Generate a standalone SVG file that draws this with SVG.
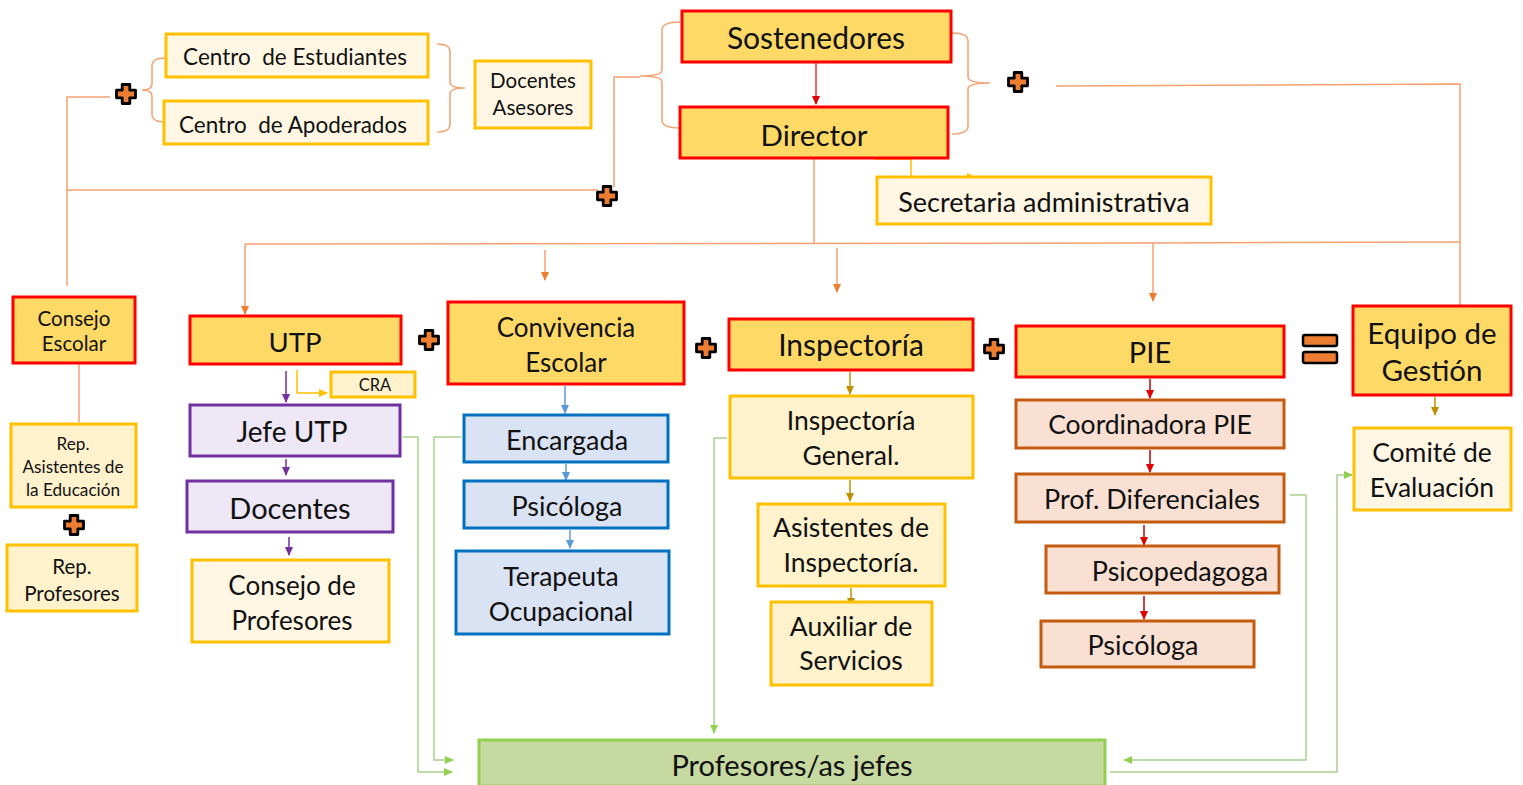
<svg xmlns="http://www.w3.org/2000/svg" width="1523" height="785" viewBox="0 0 1523 785">
<style>
text{font-family:Lato,"Liberation Sans",sans-serif;fill:#111;text-anchor:middle;dominant-baseline:central}
.pre{white-space:pre}
.main{fill:#FFD966;stroke:#FF0000;stroke-width:3}
.cream{fill:#FFF2CC;stroke:#FFC000;stroke-width:3}
.light{fill:#FFF7E4;stroke:#FFC000;stroke-width:3}
.purp{fill:#EDE7F6;stroke:#7030A0;stroke-width:3}
.blue{fill:#DAE3F3;stroke:#0070C0;stroke-width:3}
.pie{fill:#F9E0D3;stroke:#C55A11;stroke-width:3}
.green{fill:#C5D9A0;stroke:#92D050;stroke-width:3}
.o{fill:none;stroke:#F4A070;stroke-width:1.5}
.g{fill:none;stroke:#A9D18E;stroke-width:1.5}
</style>
<defs>
<marker id="aO" markerWidth="10" markerHeight="10" refX="8" refY="5" orient="auto" markerUnits="userSpaceOnUse"><path d="M0,1 L9,5 L0,9 Z" fill="#ED7D31"/></marker>
<marker id="aR" markerWidth="10" markerHeight="10" refX="8" refY="5" orient="auto" markerUnits="userSpaceOnUse"><path d="M0,1 L9,5 L0,9 Z" fill="#E00000"/></marker>
<marker id="aP" markerWidth="10" markerHeight="10" refX="8" refY="5" orient="auto" markerUnits="userSpaceOnUse"><path d="M0,1 L9,5 L0,9 Z" fill="#7030A0"/></marker>
<marker id="aY" markerWidth="10" markerHeight="10" refX="8" refY="5" orient="auto" markerUnits="userSpaceOnUse"><path d="M0,1 L9,5 L0,9 Z" fill="#FFC000"/></marker>
<marker id="aB" markerWidth="10" markerHeight="10" refX="8" refY="5" orient="auto" markerUnits="userSpaceOnUse"><path d="M0,1 L9,5 L0,9 Z" fill="#5B9BD5"/></marker>
<marker id="aG" markerWidth="10" markerHeight="10" refX="8" refY="5" orient="auto" markerUnits="userSpaceOnUse"><path d="M0,1 L9,5 L0,9 Z" fill="#BF9000"/></marker>
<marker id="aL" markerWidth="10" markerHeight="10" refX="8" refY="5" orient="auto" markerUnits="userSpaceOnUse"><path d="M0,1 L9,5 L0,9 Z" fill="#92D050"/></marker>
<path id="plus" d="M-3.8,-9.5 H3.8 V-3.8 H9.5 V3.8 H3.8 V9.5 H-3.8 V3.8 H-9.5 V-3.8 H-3.8 Z" fill="#ED7D31" stroke="#000" stroke-width="2.8" stroke-linejoin="round"/>
</defs>

<g id="connectors">
<path class="o" d="M165,58 Q152,58 152,66 V84 Q152,90 142,90 Q152,90 152,96 V114 Q152,122 165,122"/>
<path class="o" d="M437,44 Q450,44 450,52 V82 Q450,88 465,88 Q450,88 450,94 V124 Q450,132 437,132"/>
<path class="o" d="M680,22 Q662,22 662,30 V70 Q662,76 640,76 Q662,76 662,82 V120 Q662,128 680,128"/>
<path class="o" d="M952,33 Q968,33 968,41 V77 Q968,83 990,83 Q968,83 968,89 V126 Q968,134 952,134"/>
<path class="o" d="M110,97 H67 V286"/>
<path class="o" d="M67,190 H598"/>
<path class="o" d="M614,187 V77 H640"/>
<path class="o" d="M79,364 V422"/>
<path class="o" d="M1056,86 L1460,84 V305"/>
<path class="o" d="M814,159 V243"/>
<path class="o" d="M245,244 L1153,243 L1460,242"/>
<path class="o" d="M245,244 V314" marker-end="url(#aO)"/>
<path class="o" d="M545,250 V280" marker-end="url(#aO)"/>
<path class="o" d="M837,248 V292" marker-end="url(#aO)"/>
<path class="o" d="M1153,243 V301" marker-end="url(#aO)"/>
<path d="M816,63 V104" fill="none" stroke="#FF3030" stroke-width="1.5" marker-end="url(#aR)"/>
<path d="M875,159 H911 V177 H975" fill="none" stroke="#FFC000" stroke-width="1.5" marker-end="url(#aY)"/>
<path d="M286,371 V402" fill="none" stroke="#7030A0" stroke-width="1.5" marker-end="url(#aP)"/>
<path d="M297,370 V393 H327" fill="none" stroke="#FFC000" stroke-width="1.5" marker-end="url(#aY)"/>
<path d="M286,459 V475" fill="none" stroke="#7030A0" stroke-width="1.5" marker-end="url(#aP)"/>
<path d="M289,537 V555" fill="none" stroke="#7030A0" stroke-width="1.5" marker-end="url(#aP)"/>
<path d="M565,386 V413" fill="none" stroke="#5B9BD5" stroke-width="1.5" marker-end="url(#aB)"/>
<path d="M566,464 V480" fill="none" stroke="#5B9BD5" stroke-width="1.5" marker-end="url(#aB)"/>
<path d="M570,530 V548" fill="none" stroke="#5B9BD5" stroke-width="1.5" marker-end="url(#aB)"/>
<path d="M850,372 V394" fill="none" stroke="#BF9000" stroke-width="1.5" marker-end="url(#aG)"/>
<path d="M850,480 V501" fill="none" stroke="#BF9000" stroke-width="1.5" marker-end="url(#aG)"/>
<path d="M851,588 V606" fill="none" stroke="#BF9000" stroke-width="1.5" marker-end="url(#aG)"/>
<path d="M1150,379 V398" fill="none" stroke="#C00000" stroke-width="1.5" marker-end="url(#aR)"/>
<path d="M1150,450 V472" fill="none" stroke="#C00000" stroke-width="1.5" marker-end="url(#aR)"/>
<path d="M1144,525 V545" fill="none" stroke="#C00000" stroke-width="1.5" marker-end="url(#aR)"/>
<path d="M1144,596 V619" fill="none" stroke="#C00000" stroke-width="1.5" marker-end="url(#aR)"/>
<path d="M1435,397 V415" fill="none" stroke="#BF9000" stroke-width="1.5" marker-end="url(#aG)"/>
<path class="g" d="M403,437 H418 V772 H452" marker-end="url(#aL)"/>
<path class="g" d="M461,437 H434 V760 H453" marker-end="url(#aL)"/>
<path class="g" d="M727,438 H714 V733" marker-end="url(#aL)"/>
<path class="g" d="M1290,495 H1306 V760 H1124" marker-end="url(#aL)"/>
<path class="g" d="M1110,772 H1337 V475 H1352" marker-end="url(#aL)"/>
</g>

<g id="plus-signs">
<use href="#plus" x="126" y="94"/>
<use href="#plus" x="607" y="196"/>
<use href="#plus" x="1018" y="82"/>
<use href="#plus" x="74" y="525"/>
<use href="#plus" x="429" y="340"/>
<use href="#plus" x="706" y="348"/>
<use href="#plus" x="994" y="349"/>
<rect x="1303" y="335" width="34" height="11" rx="2" fill="#ED7D31" stroke="#000" stroke-width="2.5"/>
<rect x="1303" y="352" width="34" height="11" rx="2" fill="#ED7D31" stroke="#000" stroke-width="2.5"/>
</g>

<g id="centro-estudiantes"><rect class="light" x="166" y="34" width="262" height="43"/><text class="pre" x="295" y="56" font-size="22.5">Centro  de Estudiantes</text></g>
<g id="centro-apoderados"><rect class="light" x="164" y="101" width="264" height="43"/><text class="pre" x="293" y="124" font-size="22.5">Centro  de Apoderados</text></g>
<g id="docentes-asesores"><rect class="light" x="475" y="61" width="116" height="67"/><text x="533" y="80" font-size="20.5">Docentes</text><text x="533" y="107" font-size="20.5">Asesores</text></g>
<g id="sostenedores"><rect class="main" x="682" y="11" width="269" height="51"/><text x="816" y="37" font-size="30">Sostenedores</text></g>
<g id="director"><rect class="main" x="680" y="107" width="268" height="51"/><text x="814" y="134" font-size="29.5">Director</text></g>
<g id="secretaria"><rect class="light" x="877" y="177" width="334" height="47"/><text x="1044" y="201" font-size="27">Secretaria administrativa</text></g>

<g id="consejo-escolar"><rect class="main" x="13" y="297" width="122" height="66"/><text x="74" y="318" font-size="20.5">Consejo</text><text x="74" y="343" font-size="20.5">Escolar</text></g>
<g id="rep-asistentes"><rect class="cream" x="11" y="424" width="125" height="83"/><text x="73" y="443" font-size="17.2">Rep.</text><text x="73" y="466" font-size="17.2">Asistentes de</text><text x="73" y="489" font-size="17.2">la Educación</text></g>
<g id="rep-profesores"><rect class="cream" x="7" y="545" width="130" height="66"/><text x="72" y="566" font-size="20.5">Rep.</text><text x="72" y="593" font-size="20.5">Profesores</text></g>

<g id="utp"><rect class="main" x="190" y="316" width="211" height="48"/><text x="295" y="341" font-size="27.5">UTP</text></g>
<g id="cra"><rect class="cream" x="331" y="372" width="84" height="25"/><text x="375" y="385" font-size="16.5">CRA</text></g>
<g id="jefe-utp"><rect class="purp" x="190" y="405" width="210" height="51"/><text x="292" y="431" font-size="28">Jefe UTP</text></g>
<g id="docentes"><rect class="purp" x="187" y="481" width="206" height="51"/><text x="290" y="507" font-size="29">Docentes</text></g>
<g id="consejo-profesores"><rect class="light" x="192" y="560" width="197" height="82"/><text x="292" y="585" font-size="26">Consejo de</text><text x="292" y="620" font-size="26">Profesores</text></g>

<g id="convivencia"><rect class="main" x="448" y="302" width="236" height="82"/><text x="566" y="327" font-size="26">Convivencia</text><text x="566" y="362" font-size="26">Escolar</text></g>
<g id="encargada"><rect class="blue" x="464" y="415" width="204" height="47"/><text x="567" y="439" font-size="27">Encargada</text></g>
<g id="psicologa-conv"><rect class="blue" x="464" y="481" width="204" height="47"/><text x="567" y="505" font-size="27">Psicóloga</text></g>
<g id="terapeuta"><rect class="blue" x="456" y="551" width="213" height="83"/><text x="561" y="576" font-size="26.5">Terapeuta</text><text x="561" y="611" font-size="26.5">Ocupacional</text></g>

<g id="inspectoria"><rect class="main" x="729" y="319" width="244" height="51"/><text x="851" y="344" font-size="30">Inspectoría</text></g>
<g id="inspectoria-general"><rect class="cream" x="730" y="396" width="243" height="82"/><text x="851" y="420" font-size="26.5">Inspectoría</text><text x="851" y="455" font-size="26.5">General.</text></g>
<g id="asistentes-inspectoria"><rect class="cream" x="758" y="504" width="187" height="82"/><text x="851" y="527" font-size="26.5">Asistentes de</text><text x="851" y="562" font-size="26.5">Inspectoría.</text></g>
<g id="auxiliar"><rect class="cream" x="771" y="602" width="161" height="83"/><text x="851" y="626" font-size="26.5">Auxiliar de</text><text x="851" y="660" font-size="26.5">Servicios</text></g>

<g id="pie"><rect class="main" x="1016" y="326" width="268" height="51"/><text x="1150" y="351" font-size="29">PIE</text></g>
<g id="coordinadora"><rect class="pie" x="1016" y="400" width="268" height="48"/><text x="1150" y="424" font-size="26.5">Coordinadora PIE</text></g>
<g id="prof-diferenciales"><rect class="pie" x="1016" y="474" width="268" height="48"/><text x="1152" y="498" font-size="27">Prof. Diferenciales</text></g>
<g id="psicopedagoga"><rect class="pie" x="1046" y="546" width="233" height="47"/><text x="1180" y="570" font-size="27">Psicopedagoga</text></g>
<g id="psicologa-pie"><rect class="pie" x="1041" y="621" width="213" height="46"/><text x="1143" y="644" font-size="27">Psicóloga</text></g>

<g id="equipo-gestion"><rect class="main" x="1353" y="306" width="158" height="89"/><text x="1432" y="332" font-size="29.5">Equipo de</text><text x="1432" y="369" font-size="29.5">Gestión</text></g>
<g id="comite"><rect class="light" x="1354" y="428" width="157" height="82"/><text x="1432" y="452" font-size="26.5">Comité de</text><text x="1432" y="487" font-size="26.5">Evaluación</text></g>

<g id="profesores-jefes"><rect class="green" x="479" y="740" width="626" height="46"/><text x="792" y="764" font-size="29">Profesores/as jefes</text></g>
</svg>
